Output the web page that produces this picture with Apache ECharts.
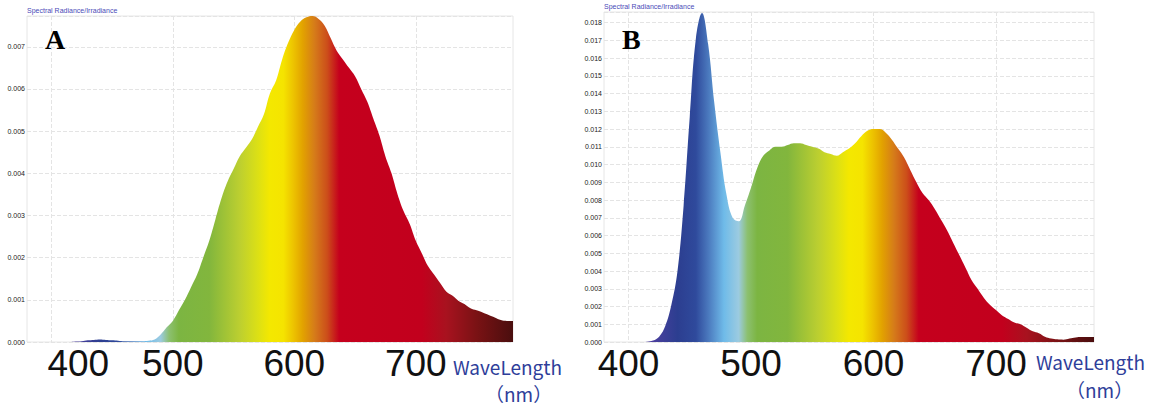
<!DOCTYPE html>
<html>
<head>
<meta charset="utf-8">
<script src="https://cdn.jsdelivr.net/npm/echarts@6/dist/echarts.min.js"></script>
<style>
  html, body { margin: 0; padding: 0; background: #fff; }
  #chart { width: 1158px; height: 407px; }
</style>
</head>
<body>
<div id="chart"></div>
<script>
// wavelength (nm), 5 nm steps
const wavelengths = [
    380, 385, 390, 395, 400, 405, 410, 415, 420, 425, 430, 435, 440, 445, 450, 455, 460, 465, 470, 475,
    480, 485, 490, 495, 500, 505, 510, 515, 520, 525, 530, 535, 540, 545, 550, 555, 560, 565, 570, 575,
    580, 585, 590, 595, 600, 605, 610, 615, 620, 625, 630, 635, 640, 645, 650, 655, 660, 665, 670, 675,
    680, 685, 690, 695, 700, 705, 710, 715, 720, 725, 730, 735, 740, 745, 750, 755, 760, 765, 770, 775, 780
];

// panel A (warm white)
const spectrumA = [
    0, 0, 0, 0, 0, 0, 0, 0, 0.00001, 0.00002, 0.00004, 0.00005, 0.00006, 0.00005, 0.00004, 0.00003, 0.00002, 0.00002, 0.00002, 0.00002,
    0.00003, 0.00006, 0.00018, 0.00035, 0.0005, 0.00075, 0.001, 0.0013, 0.0016, 0.002, 0.0024, 0.0029, 0.0034, 0.0038, 0.0041, 0.0044, 0.0046, 0.0048, 0.0051, 0.0054,
    0.0059, 0.0062, 0.0067, 0.0071, 0.0074, 0.0076, 0.0077, 0.00773, 0.00766, 0.0075, 0.0072, 0.0069, 0.0067, 0.0065, 0.0063, 0.006, 0.0057, 0.0053, 0.0049, 0.0044,
    0.004, 0.0035, 0.0031, 0.0028, 0.0024, 0.0021, 0.0018, 0.0016, 0.0014, 0.0012, 0.0011, 0.00098, 0.0009, 0.0008, 0.00075, 0.0007, 0.00064, 0.00058, 0.00052, 0.0005, 0.0005
];

// panel B (blue peak + phosphor)
const spectrumB = [
    0, 0, 0, 0, 0, 0, 0, 0.00002, 0.00008, 0.0003, 0.0009, 0.0021, 0.004, 0.0077, 0.0127, 0.0171, 0.01855, 0.0168, 0.0135, 0.0107,
    0.0083, 0.007, 0.0068, 0.0077, 0.0087, 0.0098, 0.0105, 0.0108, 0.011, 0.011, 0.0111, 0.0112, 0.0112, 0.0111, 0.011, 0.0109, 0.0107, 0.0106, 0.0105, 0.0107,
    0.0109, 0.0112, 0.0116, 0.0119, 0.012, 0.012, 0.0118, 0.0114, 0.0109, 0.0104, 0.0097, 0.009, 0.0084, 0.008, 0.0075, 0.0069, 0.0063, 0.0056, 0.0049, 0.0042,
    0.0035, 0.003, 0.0025, 0.0021, 0.0018, 0.0015, 0.0013, 0.0011, 0.001, 0.0008, 0.0006, 0.0005, 0.0003, 0.0002, 0.00015, 0.00013, 0.0002, 0.00026, 0.00028, 0.00028, 0.00028
];

const tickWavelengths = [400, 500, 600, 700];

// colour of the fill at each wavelength
const colourStops = [
    [380, '#5b3fa8'], [420, '#4b3f9e'], [440, '#2c3e90'], [455, '#2f4a9c'], [465, '#4a78bd'],
    [478, '#6fbbe9'], [490, '#9ccbe0'], [497, '#8cc070'], [505, '#7cb542'], [530, '#82b63d'],
    [555, '#bccf30'], [570, '#dce015'], [580, '#f4e800'], [591, '#f5e400'], [600, '#ecc000'],
    [607, '#e2a200'], [617, '#d57a1a'], [627, '#cc4e1a'], [637, '#c5001d'], [705, '#c2001d'],
    [725, '#a8121f'], [750, '#7a1214'], [780, '#4a0e0e']
];

const spectrumFill = new echarts.graphic.LinearGradient(0, 0, 1, 0,
    colourStops.map(s => ({ offset: (s[0] - 380) / 400, color: s[1] })));

const chart = echarts.init(document.getElementById('chart'), null, { renderer: 'svg' });

function makeX(idx, shiftFirst) {
    return {
        type: 'value',
        gridIndex: idx,
        min: 380,
        max: 780,
        axisLine: { show: false },
        axisTick: { show: false, customValues: tickWavelengths },
        splitLine: { show: true, lineStyle: { color: '#e4e4e4', type: 'dashed' } },
        axisLabel: {
            customValues: tickWavelengths,
            margin: 3,
            formatter: function (v) {
                if (shiftFirst && v === 400) return '{s|400}';
                return '{n|' + v + '}';
            },
            rich: {
                n: { fontSize: 37, fontFamily: 'Liberation Sans Narrow, Liberation Sans', color: '#111' },
                s: { fontSize: 37, fontFamily: 'Liberation Sans Narrow, Liberation Sans', color: '#111', padding: [0, 0, 0, 54] }
            }
        }
    };
}

function makeY(idx, max) {
    return {
        type: 'value',
        gridIndex: idx,
        min: 0,
        max: max,
        interval: 0.001,
        axisLine: { show: false },
        axisTick: { show: false },
        splitLine: { show: true, lineStyle: { color: '#e4e4e4', type: 'dashed' } },
        axisLabel: {
            showMaxLabel: false,
            margin: 2,
            fontSize: 7,
            color: '#222',
            fontFamily: 'Liberation Sans',
            formatter: v => v.toFixed(3)
        }
    };
}

function makeSeries(idx, values) {
    return {
        type: 'line',
        xAxisIndex: idx,
        yAxisIndex: idx,
        data: wavelengths.map((w, i) => [w, values[i]]),
        smooth: 0.4,
        showSymbol: false,
        lineStyle: { width: 0 },
        areaStyle: { color: spectrumFill, opacity: 1 },
        silent: true
    };
}

const caption = { fontSize: 7, fontWeight: 'normal', color: '#4a4ab8', fontFamily: 'Liberation Sans' };
const panelLetter = { fontSize: 28, fontWeight: 'bold', color: '#000', fontFamily: 'Liberation Serif' };
const unitText = { fontSize: 19, fontWeight: 'normal', color: '#2e3e9a', fontFamily: 'Noto Sans CJK JP', lineHeight: 20 };

const option = {
    animation: false,
    title: [
        { text: 'Spectral Radiance/Irradiance', left: 27, top: 7, padding: 0, textStyle: caption },
        { text: 'Spectral Radiance/Irradiance', left: 604, top: 3, padding: 0, textStyle: caption },
        { text: 'A', left: 45, top: 25, padding: 0, textStyle: panelLetter },
        { text: 'B', left: 622, top: 25, padding: 0, textStyle: panelLetter },
        { text: 'WaveLength', left: 453, top: 356, padding: 0, textStyle: unitText },
        { text: '（nm）', left: 485, top: 383, padding: 0, textStyle: unitText },
        { text: 'WaveLength', left: 1036, top: 351, padding: 0, textStyle: unitText },
        { text: '（nm）', left: 1066, top: 379, padding: 0, textStyle: unitText }
    ],
    grid: [
        { left: 27, top: 16, width: 486, height: 326, show: true, borderColor: '#e6e6e6', borderWidth: 1 },
        { left: 604, top: 12, width: 490, height: 330, show: true, borderColor: '#e6e6e6', borderWidth: 1 }
    ],
    xAxis: [makeX(0, true), makeX(1, false)],
    yAxis: [makeY(0, 0.00773), makeY(1, 0.0186)],
    series: [makeSeries(0, spectrumA), makeSeries(1, spectrumB)]
};

chart.setOption(option);
</script>
</body>
</html>
